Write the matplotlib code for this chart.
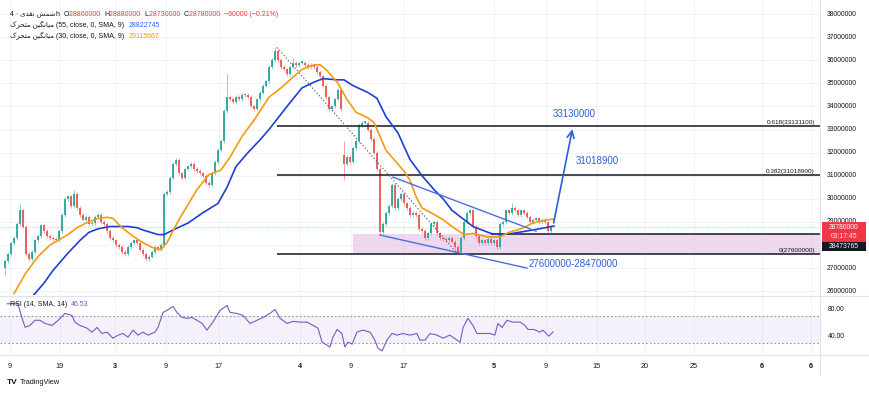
import numpy as np
import matplotlib
matplotlib.use("Agg")
import matplotlib.pyplot as plt
import matplotlib.transforms as mtransforms
from matplotlib.patches import Rectangle

# ---------------- data (prices in millions) ----------------
first_open = 27.0
closes = [
    27.3, 27.6, 28.1, 28.3, 28.9, 29.5, 28.8, 27.6, 27.4, 27.7,
    28.2, 28.4, 28.85, 28.6, 28.4, 28.3, 28.25, 28.2, 28.6, 29.3,
    30.0, 30.1, 29.7, 30.2, 29.6, 29.3, 29.1, 29.2, 28.9, 28.95,
    29.2, 29.3, 29.0, 28.9, 28.6, 28.3, 28.2, 28.0, 27.9, 27.7,
    27.6, 27.9, 28.1, 28.2, 28.1, 27.8, 27.6, 27.4, 27.5, 27.7,
    27.9, 27.8, 28.0, 30.2, 30.3, 30.9, 31.5, 31.7, 31.1, 30.9,
    31.3, 31.4, 31.5, 31.3, 31.2, 31.1, 31.0, 30.7, 30.6, 31.1,
    31.6, 32.1, 32.5, 33.8, 34.4, 34.3, 34.2, 34.4, 34.3, 34.5,
    34.5, 34.4, 34.0, 33.9, 34.3, 34.6, 34.9, 35.1, 35.7, 36.0,
    36.4, 36.0, 35.7, 35.6, 35.4, 35.7, 35.9, 35.8, 35.9, 35.9,
    35.8, 35.7, 35.8, 35.7, 35.5, 35.3, 34.9, 34.4, 33.9, 34.0,
    34.3, 34.7, 33.9, 31.5, 31.8, 31.6, 32.2, 32.5, 33.2, 33.3,
    33.3, 33.0, 32.6, 32.0, 31.3, 28.55, 28.9, 29.4, 29.7, 30.6,
    29.6, 30.0, 30.2, 29.8, 29.6, 29.3, 29.4, 29.3, 28.7, 28.6,
    28.3, 28.5, 28.9, 29.0, 28.5, 28.3, 28.25, 28.2, 28.3, 28.15,
    27.9, 27.7, 28.3, 29.0, 29.4, 29.5, 28.8, 28.4, 28.1, 28.2,
    28.1, 28.25, 28.1, 28.2, 27.9, 28.9, 29.0, 29.5, 29.4, 29.6,
    29.5, 29.3, 29.5, 29.4, 29.2, 29.0, 29.1, 29.15, 29.0, 29.1,
    29.0, 28.6, 28.78,
]
gap_idx = [113]
gap_open = [31.9]
hi_idx = [5, 23, 74, 90, 96, 113, 169]
hi_val = [29.8, 30.4, 35.4, 36.55, 36.1, 32.5, 29.8]
lo_idx = [0, 113, 125, 151]
lo_val = [26.7, 30.8, 28.43, 27.6]
wick = 0.08

ma30_t = [3, 7, 11, 15, 21, 24, 27, 31, 34, 36, 39, 43, 46, 49, 52,
          54, 56, 58, 64, 68, 72, 75, 79, 83, 86, 88, 92, 95, 99, 103,
          105, 107, 111, 114, 117, 121, 123, 125, 127, 129, 133, 135, 137, 139, 142,
          146, 149, 153, 156, 161, 165, 168, 172, 176, 181, 183]
ma30_v = [25.9, 26.8, 27.5, 28.0, 28.45, 28.75, 28.95, 29.15, 29.2, 29.15, 28.75, 28.35, 28.1, 27.9, 27.8,
          28.1, 28.6, 29.1, 30.4, 31.05, 31.25, 31.8, 32.7, 33.4, 34.0, 34.4, 34.8, 35.15, 35.6, 35.8,
          35.8, 35.6, 35.0, 34.3, 33.75, 33.5, 33.3, 32.7, 32.1, 31.8, 31.2, 30.8, 30.1, 29.6, 29.4,
          29.1, 28.8, 28.45, 28.5, 28.35, 28.35, 28.55, 28.7, 28.95, 29.1, 29.12]
ma55_t = [8, 13, 16, 21, 25, 28, 31, 35, 41, 44, 46, 51, 53, 56, 61,
          66, 71, 74, 77, 81, 85, 88, 94, 99, 103, 106, 111, 113, 116, 121,
          124, 127, 129, 131, 135, 139, 143, 146, 149, 153, 156, 162, 165, 169, 176, 183]
ma55_v = [25.6, 26.35, 26.9, 27.65, 28.2, 28.55, 28.7, 28.8, 28.8, 28.75, 28.65, 28.45, 28.45, 28.65, 28.95,
          29.4, 29.8, 30.5, 31.4, 32.0, 32.55, 33.0, 34.0, 34.8, 35.05, 35.2, 35.15, 35.15, 34.9, 34.6,
          34.35, 33.55, 33.2, 32.85, 31.7, 31.0, 30.4, 30.0, 29.5, 29.1, 28.8, 28.5, 28.45, 28.5, 28.65, 28.82]

rsi_t = [0.7, 4.3, 5.7, 6.7, 8.3, 10, 11.7, 13.3, 15.7, 17.7,
         20, 22.3, 23.3, 25, 27.3, 29, 30.7, 32.3, 34, 36,
         37.7, 39.3, 41, 42.7, 44.3, 46, 47.7, 50, 51, 52.7,
         54, 56, 57.3, 59, 60.7, 62.3, 64, 65.7, 67.3, 69.3,
         71.7, 74, 75, 77.3, 79.3, 81.7, 84, 86, 88.3, 90,
         91.7, 94, 96, 98.3, 100.7, 102.7, 104.3, 105.7, 107.3, 108.3,
         109.3, 110.7, 112.3, 113.3, 114.3, 115.7, 117.3, 119.3, 121.7, 123.3,
         124.3, 125.7, 127.3, 129, 130.7, 132.7, 135, 137.3, 138.3, 140,
         141.7, 144, 146, 148.3, 150.7, 151.7, 152.7, 154.3, 156, 157.3,
         159.3, 161.7, 163.3, 164.3, 165.7, 167.3, 169.3, 171.7, 173.3, 174.3,
         176.3, 178.3, 179.3, 181.3, 182.7]
rsi_v = [88.4, 88.5, 66.7, 53.3, 56, 63.7, 63.7, 59, 56, 63.7,
         74, 71, 61, 56, 52, 46, 53, 44, 46, 37,
         41.5, 44, 38.5, 49, 41.5, 46, 41.5, 46, 53, 75.5,
         78.5, 84.5, 75.5, 68, 66.7, 68, 63.7, 59, 49, 61,
         78.5, 86, 75.5, 74, 71, 59, 63.7, 68, 74, 80,
         66.7, 59, 62, 61, 61, 56, 52, 31, 26.7, 23.7,
         38.5, 50, 44, 23.7, 31, 28, 46, 49, 46, 34,
         22, 18, 34, 44, 41.5, 44, 41.5, 44, 34, 34,
         44, 41.5, 37, 41.5, 34, 31, 53, 66.7, 56, 44,
         44, 44, 41.5, 59, 53, 63.7, 61, 61, 56, 50,
         50, 46, 49, 40, 46.53]

price_ticks = [26, 27, 28, 29, 30, 31, 32, 33, 34, 35, 36, 37, 38]
rsi_ticks = [80, 40]
time_tick_pos = [1.7, 18.3, 36.7, 53.7, 71.3, 98.3, 115.3, 132.7, 163, 180.3, 197.3, 213.3, 229.7, 252.3, 268.7]
time_tick_lab = ['9', '19', '3', '9', '17', '4', '9', '17', '5', '9', '15', '20', '25', '6', '6']
time_tick_month = [0, 0, 1, 0, 0, 1, 0, 0, 1, 0, 0, 0, 0, 1, 1]

fib_ratio = [0.618, 0.382, 0.0]
fib_price = [33131100, 31018900, 27600000]
fib_high = 36.55
zone_low, zone_high = 27.6, 28.47
zone_start = 116
zone_line_start = 162
target_labels = ['33130000', '31018900', '27600000-28470000']
channel_lower = ([125, 174], [28.43, 27.0])
channel_upper = ([129.3, 177], [30.94, 28.6])
arrow_to = (189.3, 33.13)

ohlc = [28860000, 28880000, 28730000, 28780000]
change, change_pct = -60000, -0.21
ma55_last, ma30_last = 28822745, 29115667
rsi_last = 46.53
ma_tag = 28473765
countdown = '03:17:45'

# ---------------- Persian shaping helper ----------------
_FORMS = {
    'ا': ('\uFE8D', '\uFE8E', None, None),
    'د': ('\uFEA9', '\uFEAA', None, None),
    'ر': ('\uFEAD', '\uFEAE', None, None),
    'ش': ('\uFEB5', '\uFEB6', '\uFEB7', '\uFEB8'),
    'م': ('\uFEE1', '\uFEE2', '\uFEE3', '\uFEE4'),
    'ن': ('\uFEE5', '\uFEE6', '\uFEE7', '\uFEE8'),
    'ق': ('\uFED5', '\uFED6', '\uFED7', '\uFED8'),
    'ت': ('\uFE95', '\uFE96', '\uFE97', '\uFE98'),
    'ح': ('\uFEA1', '\uFEA2', '\uFEA3', '\uFEA4'),
    'ی': ('\uFBFC', '\uFBFD', '\uFBFE', '\uFBFF'),
    'گ': ('\uFB92', '\uFB93', '\uFB94', '\uFB95'),
    'ک': ('\uFB8E', '\uFB8F', '\uFB90', '\uFB91'),
}


def shape_rtl(s):
    out = []
    for i, ch in enumerate(s):
        f = _FORMS.get(ch)
        if f is None:
            out.append(ch)
            continue
        prev = s[i - 1] if i > 0 else None
        nxt = s[i + 1] if i < len(s) - 1 else None
        jp = prev in _FORMS and _FORMS[prev][2] is not None
        jn = nxt in _FORMS and f[2] is not None
        if jp and jn:
            out.append(f[3])
        elif jp:
            out.append(f[1])
        elif jn:
            out.append(f[2])
        else:
            out.append(f[0])
    return ''.join(reversed(out))


# ---------------- figure ----------------
plt.rcParams['font.family'] = ['Liberation Sans', 'DejaVu Sans']
W, H = 870, 395
fig = plt.figure(figsize=(W / 100, H / 100), dpi=100)
fig.patch.set_facecolor('white')


def fy(px):
    return 1 - px / H


ax = fig.add_axes([0, fy(295), 820 / W, 295 / H])
axr = fig.add_axes([0, fy(354), 820 / W, (354 - 296.5) / H])

xmin, xmax = -5 / 3, 815 / 3
for a in (ax, axr):
    a.set_xlim(xmin, xmax)
    a.set_xticks([])
    a.set_yticks([])
    for s in a.spines.values():
        s.set_visible(False)
    a.set_facecolor('white')
ax.set_ylim(38 - 281 / 23.1, 38 + 14 / 23.1)
axr.set_ylim(13.3, 99.3)

grid_c = '#f0f3fa'
for p in price_ticks:
    ax.axhline(p, color=grid_c, lw=0.7, zorder=0)
for t in time_tick_pos:
    ax.axvline(t, color=grid_c, lw=0.7, zorder=0)
    axr.axvline(t, color=grid_c, lw=0.7, zorder=0)

# candles
close = np.array(closes)
open_ = np.concatenate([[first_open], close[:-1]])
for i, v in zip(gap_idx, gap_open):
    open_[i] = v
hi = np.maximum(open_, close) + wick
lo = np.minimum(open_, close) - wick
for i, v in zip(hi_idx, hi_val):
    hi[i] = max(hi[i], v)
for i, v in zip(lo_idx, lo_val):
    lo[i] = min(lo[i], v)
x = np.arange(len(close))
up = close >= open_
cols = np.where(up, '#26a69a', '#ef5350')
ax.vlines(x, lo, hi, colors=cols, lw=0.6, alpha=0.6, zorder=3)
ax.bar(x, np.maximum(np.abs(close - open_), 0.05), bottom=np.minimum(open_, close),
       width=0.62, color=cols, lw=0, alpha=0.9, zorder=4)

# zone box
ax.add_patch(Rectangle((zone_start, zone_low), xmax - zone_start, zone_high - zone_low,
                       facecolor='#e1bee7', alpha=0.6, lw=0, zorder=1))
ax.hlines(zone_high, zone_line_start, xmax, color='#131722', lw=1.1, zorder=5)

# fib
peak = int(np.argmax(close))
trough = int(np.argmin(lo[peak:]) + peak)
btr = mtransforms.blended_transform_factory(ax.transAxes, ax.transData)
for r, p in zip(fib_ratio, fib_price):
    pm = p / 1e6
    ax.hlines(pm, peak + 0.7, xmax, color='#131722', lw=1.1, zorder=5)
    ax.text(815 / 820, pm + 0.06, f"{r:g}({p})", transform=btr,
            ha='right', va='bottom', fontsize=4.6, color='#131722', zorder=6)
ax.plot([peak + 0.7, trough], [fib_high, zone_low], color='#5d606b', lw=0.8,
        ls=(0, (1.2, 1.8)), zorder=5)

# current price line
ax.axhline(close[-1], color='#f23645', lw=0.6, ls=(0, (1, 2)), alpha=0.5, zorder=2)

# moving averages
ax.plot(ma55_t, ma55_v, color='#1f3fd1', lw=1.2, zorder=6)
ax.plot(ma30_t, ma30_v, color='#f59a12', lw=1.2, zorder=6)

# channel
ax.plot(*channel_lower, color='#4a6fdc', lw=1.0, zorder=6)
ax.plot(*channel_upper, color='#4a6fdc', lw=1.0, zorder=6)

# arrow
blue_txt = '#2f5fd8'
ax.annotate('', xy=arrow_to, xytext=(len(close) - 0.3, ma55_v[-1] + 0.02),
            arrowprops=dict(arrowstyle='->,head_length=0.5,head_width=0.25', color=blue_txt, lw=1.2),
            zorder=7)
ax.text(arrow_to[0] + 0.5, fib_price[0] / 1e6 + 0.55, target_labels[0], color=blue_txt,
        fontsize=7, ha='center', va='center', zorder=7)
ax.text(arrow_to[0] + 8, fib_price[1] / 1e6 + 0.6, target_labels[1], color=blue_txt,
        fontsize=7, ha='center', va='center', zorder=7)
ax.text(arrow_to[0], zone_low - 0.42, target_labels[2], color=blue_txt,
        fontsize=7, ha='center', va='center', zorder=7)

# right price scale (labels hidden behind the price tags are not drawn)
tag_top = close[-1] + 0.2
tag_bottom = tag_top - 1.26
for p in price_ticks:
    if tag_bottom < p < tag_top - 0.1:
        continue
    ax.text(826.5 / 820, p, f"{int(p * 1e6)}", transform=btr, fontsize=4.9, color='#131722',
            ha='left', va='center', clip_on=False, zorder=2)
ax.add_patch(Rectangle((822 / 820, tag_top - 0.83), 44 / 820, 0.83, transform=btr,
                       facecolor='#f23645', lw=0, clip_on=False, zorder=8))
ax.text(844 / 820, tag_top - 0.21, f"{ohlc[3]}", transform=btr, fontsize=4.9, color='white',
        ha='center', va='center', clip_on=False, zorder=9)
ax.text(844 / 820, tag_top - 0.6, countdown, transform=btr, fontsize=4.9, color='#ffe3e5',
        ha='center', va='center', clip_on=False, zorder=9)
ax.add_patch(Rectangle((822 / 820, tag_bottom), 44 / 820, 0.41, transform=btr,
                       facecolor='#131722', lw=0, clip_on=False, zorder=8))
ax.text(844 / 820, tag_bottom + 0.21, f"{ma_tag}", transform=btr, fontsize=4.9, color='white',
        ha='center', va='center', clip_on=False, zorder=9)

# RSI pane
axr.axhspan(30, 70, color='#7e57c2', alpha=0.08, lw=0, zorder=0)
axr.axhline(70, color='#9598a1', lw=0.8, ls=(0, (1.5, 2)), zorder=1)
axr.axhline(30, color='#9598a1', lw=0.8, ls=(0, (1.5, 2)), zorder=1)
axr.plot(rsi_t, rsi_v, color='#7e57c2', lw=0.8, zorder=3)
btr2 = mtransforms.blended_transform_factory(axr.transAxes, axr.transData)
for v in rsi_ticks:
    axr.text(828 / 820, v, f"{v:.2f}", transform=btr2, fontsize=4.9, color='#131722',
             ha='left', va='center', clip_on=False)

# time axis labels
btt = mtransforms.blended_transform_factory(axr.transData, axr.transAxes)
for t, lab, m in zip(time_tick_pos, time_tick_lab, time_tick_month):
    axr.text(t, (354 - 366) / 57.5, lab, transform=btt, fontsize=5.2, color='#131722',
             ha='center', va='center', fontweight='bold' if m else 'normal', clip_on=False)

# separators
sep = '#e0e3eb'
fig.add_artist(plt.Line2D([0, 1], [fy(295.8), fy(295.8)], color=sep, lw=0.8))
fig.add_artist(plt.Line2D([0, 1], [fy(354.5), fy(354.5)], color=sep, lw=0.8))
fig.add_artist(plt.Line2D([820.5 / W, 820.5 / W], [fy(375), 1], color=sep, lw=0.8))

# legend texts
renderer = fig.canvas.get_renderer()


def chain(x_px, y_px, parts, size=5.0):
    xx = x_px
    for s, c in parts:
        t = fig.text(xx / W, fy(y_px), s, color=c, fontsize=size, ha='left', va='center')
        xx += t.get_window_extent(renderer).width


dark = '#131722'
red = '#f23645'
ma_name = shape_rtl('میانگین متحرک')
chain(10, 15, [('4 · ', dark), (shape_rtl('شمش نقدی'), dark), ('h  ', dark),
               ('O', dark), (f"{ohlc[0]}  ", red), ('H', dark), (f"{ohlc[1]}  ", red),
               ('L', dark), (f"{ohlc[2]}  ", red), ('C', dark), (f"{ohlc[3]}  ", red),
               (f"\u2212{abs(change)} (\u2212{abs(change_pct):.2f}%)", red)])
chain(10, 25.5, [(ma_name + ' ', dark), ('(55, close, 0, SMA, 9)  ', dark), (f"{ma55_last}", '#2962ff')])
chain(10, 36, [(ma_name + ' ', dark), ('(30, close, 0, SMA, 9)  ', dark), (f"{ma30_last}", '#ff9800')])
chain(10, 304, [('RSI (14, SMA, 14)  ', dark), (f"{rsi_last:.2f}", '#7e57c2')])

# logo
fig.text(7 / W, fy(383), 'TV', fontsize=6, fontweight='heavy', color=dark, ha='left', va='center')
fig.text(20 / W, fy(383), 'TradingView', fontsize=5.3, color=dark, ha='left', va='center')

fig.savefig('out.png', dpi=100, facecolor='white')
